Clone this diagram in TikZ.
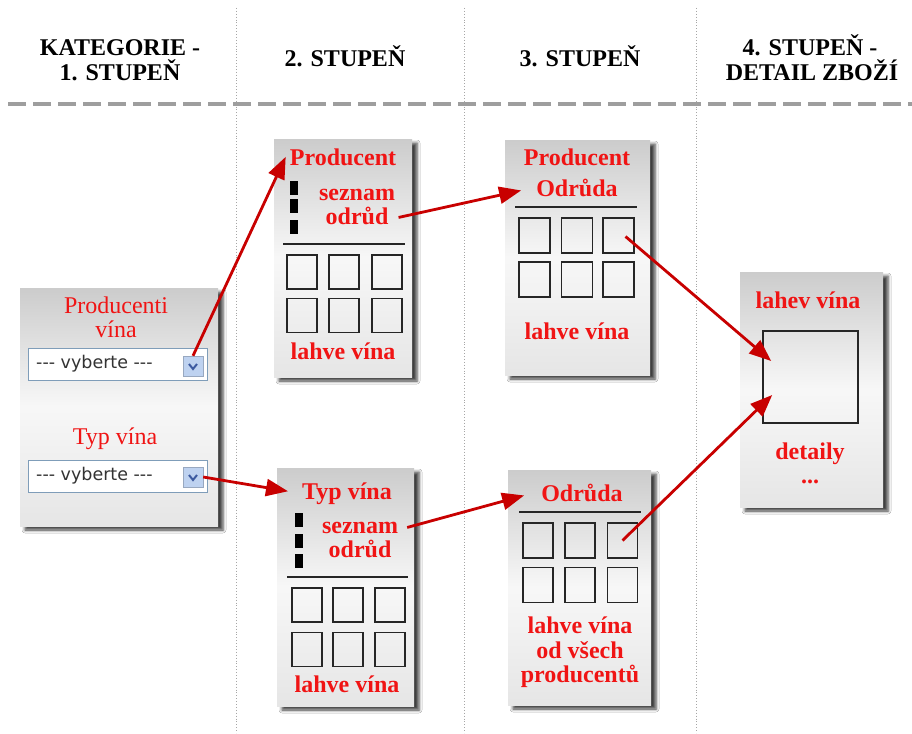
\documentclass[tikz,border=0pt]{standalone}
\usepackage{fontspec}
\setmainfont{Liberation Serif}
\newfontfamily\ddfont{DejaVu Sans}
\usetikzlibrary{arrows.meta,shadows.blur}
\definecolor{txtred}{RGB}{240,20,20}
\definecolor{arrred}{RGB}{200,0,0}
\definecolor{ddborder}{RGB}{127,157,185}
\definecolor{btnblue}{RGB}{190,210,240}
\definecolor{chev}{RGB}{60,90,160}
\tikzset{
  panel/.style={draw=none, inner sep=0pt, top color=black!20, bottom color=black!10, middle color=black!3,
    blur shadow={shadow xshift=5pt, shadow yshift=-4pt, shadow blur radius=3pt, shadow opacity=75}},
  head/.style={font=\fontsize{24}{24}\selectfont\bfseries, anchor=base, inner sep=0pt},
  redb/.style={font=\fontsize{24}{24}\selectfont\bfseries, text=txtred, anchor=base, inner sep=0pt},
  redr/.style={font=\fontsize{24}{24}\selectfont, text=txtred, anchor=base, inner sep=0pt},
  cell/.style={draw=black!85, fill=none, line width=1.6pt, inner sep=0pt, minimum width=30pt, minimum height=34pt},
  sepline/.style={draw=black!85, line width=1.6pt},
  bar/.style={fill=black, inner sep=0pt, minimum width=8pt, minimum height=14pt},
  link/.style={draw=arrred, line width=2.8pt, -{Triangle[length=22pt,width=17pt]}},
  dd/.style={draw=ddborder, line width=1pt, fill=white, inner sep=0pt, minimum width=179pt, minimum height=32pt},
  ddtext/.style={font=\ddfont\fontsize{17.5}{17.5}\selectfont, text=black!80, anchor=west, inner sep=0pt},
  btn/.style={fill=btnblue, draw=btnblue!80!black, line width=0.4pt, inner sep=0pt, minimum width=20pt, minimum height=20pt},
  chevron/.style={draw=chev, line width=2pt},
  colline/.style={draw=black!35, dotted, line width=0.9pt},
  headline/.style={draw=black!38, line width=4pt, dash pattern=on 18pt off 7pt}
}
\begin{document}
\begin{tikzpicture}[x=1pt,y=-1pt]
\useasboundingbox[fill=white] (0,0) rectangle (912,733);

% column separators
\draw[colline] (236,8) -- (236,733);
\draw[colline] (464,8) -- (464,733);
\draw[colline] (696,8) -- (696,733);
\draw[headline] (8,104) -- (912,104);

% headers
\node[head] (h1a) at (120,56) {KATEGORIE -};
\node[head] (h1b) at (120,81) {1. STUPEŇ};
\node[head] (h2) at (345,67) {2. STUPEŇ};
\node[head] (h3) at (580,67) {3. STUPEŇ};
\node[head] (h4a) at (810,56) {4. STUPEŇ -};
\node[head] (h4b) at (812,81) {DETAIL ZBOŽÍ};

% panels
\node[panel, minimum width=198pt, minimum height=238pt] (p1) at (119,407) {};
\node[panel, minimum width=138pt, minimum height=238pt] (p2a) at (343,258) {};
\node[panel, minimum width=137pt, minimum height=238pt] (p2b) at (345.5,587) {};
\node[panel, minimum width=145pt, minimum height=235pt] (p3a) at (577.5,257.5) {};
\node[panel, minimum width=143pt, minimum height=235pt] (p3b) at (579.5,587.5) {};
\node[panel, minimum width=143pt, minimum height=235pt] (p4) at (811.5,389.5) {};

% panel 1
\node[redr] (t1a) at (116,313) {Producenti};
\node[redr] (t1b) at (116,337) {vína};
\node[dd] (dd1) at (117.5,364) {};
\node[ddtext] (v1) at (36,364) {--- vyberte ---};
\node[btn] (b1) at (193,366) {};
\draw[chevron] ([xshift=-4pt,yshift=2pt]b1.center) -- ([yshift=-3pt]b1.center) -- ([xshift=4pt,yshift=2pt]b1.center);
\node[redr] (t1c) at (115,444) {Typ vína};
\node[dd] (dd2) at (117.5,476) {};
\node[ddtext] (v2) at (36,476) {--- vyberte ---};
\node[btn] (b2) at (193,477) {};
\draw[chevron] ([xshift=-4pt,yshift=2pt]b2.center) -- ([yshift=-3pt]b2.center) -- ([xshift=4pt,yshift=2pt]b2.center);

% panel 2a
\node[redb] (prod2a) at (343,165) {Producent};
\node[bar] (bar2a1) at (294,187.5) {};
\node[bar] (bar2a2) at (294,205.5) {};
\node[bar] (bar2a3) at (294,226.5) {};
\node[redb] (sez2a) at (357,200) {seznam};
\node[redb] (odr2a) at (357,224) {odrůd};
\draw[sepline] (283,244) -- (405,244);
\foreach \c/\x in {1/302,2/344,3/387}{
  \node[cell] (c2a1\c) at (\x,272) {};
  \node[cell] (c2a2\c) at (\x,315.5) {};
}
\node[redb] (lah2a) at (343,359) {lahve vína};

% panel 2b
\node[redb] (typ2b) at (347,499) {Typ vína};
\node[bar] (bar2b1) at (298.5,520) {};
\node[bar] (bar2b2) at (298.5,540.5) {};
\node[bar] (bar2b3) at (298.5,561) {};
\node[redb] (sez2b) at (360,533) {seznam};
\node[redb] (odr2b) at (360,557) {odrůd};
\draw[sepline] (287,577) -- (408,577);
\foreach \c/\x in {1/307,2/348,3/390}{
  \node[cell] (c2b1\c) at (\x,605) {};
  \node[cell] (c2b2\c) at (\x,649.5) {};
}
\node[redb] (lah2b) at (347,692) {lahve vína};

% panel 3a
\node[redb] (prod3a) at (577,165) {Producent};
\node[redb] (odr3a) at (577,196) {Odrůda};
\draw[sepline] (515,207) -- (637,207);
\foreach \c/\x in {1/534.5,2/577,3/618.5}{
  \node[cell, minimum width=31pt, minimum height=35pt] (c3a1\c) at (\x,235.5) {};
  \node[cell, minimum width=31pt, minimum height=35pt] (c3a2\c) at (\x,279.5) {};
}
\node[redb] (lah3a) at (577,339) {lahve vína};

% panel 3b
\node[redb] (odr3b) at (582,501) {Odrůda};
\draw[sepline] (519,512) -- (641,512);
\foreach \c/\x in {1/538,2/580,3/622.5}{
  \node[cell, minimum height=35pt] (c3b1\c) at (\x,540.5) {};
  \node[cell, minimum height=35pt] (c3b2\c) at (\x,585) {};
}
\node[redb] (lah3b) at (580,633) {lahve vína};
\node[redb] (vse3b) at (580,658) {od všech};
\node[redb] (pro3b) at (580,682) {producentů};

% panel 4
\node[redb] (lah4) at (808,308) {lahev vína};
\node[draw=black!85, line width=1.6pt, inner sep=0pt, minimum width=95pt, minimum height=92pt] (big) at (810.5,377) {};
\node[redb] (det4) at (810,459) {detaily};
\node[redb] (dots4) at (810,483) {...};

% connectors
\draw[link] (b1.north) -- ([xshift=-4pt]prod2a.west);
\draw[link] (b2.east) -- ([xshift=-14pt,yshift=2pt]typ2b.west);
\draw[link] ([xshift=10pt,yshift=-2pt]odr2a.east) -- ([xshift=-15pt,yshift=-3pt]odr3a.west);
\draw[link] ([xshift=9pt]sez2b.east) -- ([xshift=-17pt,yshift=-3pt]odr3b.west);
\draw[link] ([xshift=7pt,yshift=-1pt]c3a13.center) -- ([xshift=9pt,yshift=16pt]big.west);
\draw[link] (c3b13.center) -- ([xshift=10pt,yshift=-18pt]big.west);
\end{tikzpicture}
\end{document}
